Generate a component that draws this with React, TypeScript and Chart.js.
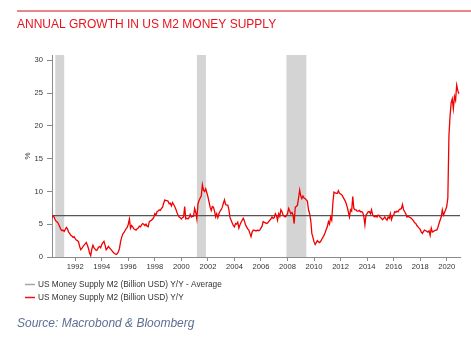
import { useEffect, useRef } from "react";
import { Chart, registerables } from "chart.js";

Chart.register(...registerables);

// Monthly Y/Y growth of US M2 (%), first value = April 1990
const startYear = 1990;
const startMonth = 4;

const growth1990s = [
  5.9, 6.3, 6.1, 5.6, 5.4, 5.3, 5.0, 4.6, 4.2,
  4.0, 4.1, 3.9, 4.2, 4.5, 4.3, 3.8, 3.6, 3.3, 3.2, 3.0, 3.1,
  2.8, 2.6, 2.5, 2.3, 1.6, 1.1, 1.3, 1.6, 1.8, 2.0, 2.2, 1.8,
  1.3, 0.6, 0.2, 1.2, 1.8, 1.4, 1.2, 1.0, 1.1, 1.5, 1.6, 1.4,
  1.9, 2.2, 2.4, 1.8, 1.1, 1.3, 1.6, 1.4, 1.2, 1.0, 0.8, 0.6,
  0.5, 0.4, 0.5, 0.8, 1.3, 2.3, 3.0, 3.5, 3.7, 4.0, 4.3, 4.5,
  5.0, 5.8, 4.4, 4.8, 4.6, 4.3, 4.2, 4.1, 4.3, 4.4, 4.7, 4.6,
  4.9, 5.1, 5.0, 4.8, 5.0, 4.7, 4.6, 5.4, 5.5, 5.6, 5.8, 6.0,
  6.6, 6.4, 6.9, 7.0, 7.2, 7.1, 7.4, 7.6, 8.2, 8.7, 8.6, 8.6,
  8.5, 8.1, 8.2, 7.8, 8.3, 8.0, 7.7, 7.3, 6.8, 6.4, 6.1, 6.0,
];

const growth2000s = [
  5.8, 6.0, 6.1, 7.7, 5.8, 5.9, 5.8, 6.0, 6.5, 6.1, 6.2, 6.2,
  7.4, 6.8, 5.8, 8.1, 8.6, 9.0, 9.3, 11.0, 10.2, 10.0, 10.4, 9.8,
  9.2, 8.4, 7.6, 7.1, 7.7, 7.6, 7.0, 6.1, 6.6, 6.0, 6.6, 7.0,
  7.2, 7.6, 8.2, 8.7, 8.0, 7.9, 7.9, 7.2, 6.0, 5.6, 5.2, 4.8,
  4.6, 5.1, 5.0, 5.3, 4.4, 4.9, 5.3, 5.6, 5.9, 5.5, 4.9, 4.6,
  4.3, 4.1, 3.6, 3.1, 3.8, 4.1, 4.1, 4.0, 4.0, 4.1, 4.0, 4.1,
  4.4, 4.7, 5.4, 5.3, 5.2, 5.1, 5.2, 5.4, 5.6, 5.8, 6.1, 5.9,
  6.0, 6.6, 6.3, 5.6, 6.6, 6.2, 7.2, 6.9, 6.4, 6.2, 6.1, 6.3,
  6.6, 7.4, 7.0, 6.6, 6.8, 6.4, 5.1, 7.6, 7.7, 7.9, 9.0, 10.2,
  9.3, 8.9, 9.3, 9.0, 8.9, 8.7, 8.5, 7.2, 6.6, 5.6, 3.6, 3.0,
];

const growth2010s = [
  2.3, 1.9, 2.2, 2.5, 2.3, 2.2, 2.4, 2.7, 3.0, 3.3, 3.7, 4.2,
  4.6, 5.4, 5.0, 6.1, 5.6, 8.2, 9.9, 9.8, 9.7, 9.7, 10.1, 9.7,
  9.6, 9.5, 9.2, 8.9, 8.6, 8.2, 7.6, 6.9, 6.1, 7.2, 7.0, 9.2,
  7.4, 7.2, 7.2, 7.0, 7.0, 7.1, 6.9, 6.9, 6.8, 6.2, 4.9, 6.4,
  6.6, 6.9, 6.9, 6.6, 7.2, 6.4, 6.2, 6.1, 6.3, 6.1, 6.4, 6.3,
  6.0, 5.9, 5.7, 5.9, 6.1, 5.8, 5.6, 6.1, 5.9, 6.6, 5.7, 6.2,
  6.4, 6.9, 6.8, 7.0, 6.9, 7.2, 7.3, 7.4, 8.0, 7.2, 6.9, 6.6,
  6.1, 6.2, 6.1, 6.0, 5.9, 5.7, 5.5, 5.2, 5.1, 4.8, 4.6, 4.4,
  4.2, 3.8, 3.6, 3.9, 4.1, 4.0, 3.9, 3.8, 4.0, 3.3, 4.4, 3.8,
  3.9, 4.0, 4.1, 4.1, 4.5, 5.1, 5.6, 6.1, 7.2, 6.4, 6.8, 7.2,
];

const growth2020 = [7.7, 9.0, 18.5, 21.5, 23.5, 24.1, 22.6, 24.5, 23.9, 26.2, 25.4, 24.9];

const averageGrowth = 6.3;
const axisEndYear = 2021;

const recessionStarts = [1990.5, 2001.17, 2007.92];
const recessionEnds = [1991.17, 2001.85, 2009.42];

const xTickYears = [1992, 1994, 1996, 1998, 2000, 2002, 2004, 2006, 2008, 2010, 2012, 2014, 2016, 2018, 2020];
const yTickValues = [0, 5, 10, 15, 20, 25, 30];

const titleText = "ANNUAL GROWTH IN US M2 MONEY SUPPLY";
const legendAverage = "US Money Supply M2 (Billion USD) Y/Y - Average";
const legendSeries = "US Money Supply M2 (Billion USD) Y/Y";
const sourceText = "Source: Macrobond & Bloomberg";

const FONT = '"Liberation Sans", Arial, sans-serif';

export default function App() {
  const canvasRef = useRef<HTMLCanvasElement | null>(null);

  useEffect(() => {
    const canvas = canvasRef.current;
    if (!canvas) return;

    const allGrowth = [...growth1990s, ...growth2000s, ...growth2010s, ...growth2020];
    const firstX = startYear + (startMonth - 1) / 12;
    const seriesPoints = allGrowth.map((v, i) => ({ x: firstX + i / 12, y: v }));
    const avgPoints = [
      { x: firstX, y: averageGrowth },
      { x: axisEndYear, y: averageGrowth },
    ];

    const bandsPlugin = {
      id: "recessionBands",
      beforeDatasetsDraw(chart: any) {
        const { ctx, chartArea, scales } = chart;
        ctx.save();
        ctx.fillStyle = "#d4d4d4";
        recessionStarts.forEach((s, i) => {
          const x1 = scales.x.getPixelForValue(s);
          const x2 = scales.x.getPixelForValue(recessionEnds[i]);
          ctx.fillRect(x1, chartArea.top, x2 - x1, chartArea.bottom - chartArea.top);
        });
        ctx.restore();
      },
    };

    const textPlugin = {
      id: "texts",
      afterDraw(chart: any) {
        const { ctx } = chart;
        ctx.save();
        // top rule
        ctx.fillStyle = "#d0101a";
        ctx.fillRect(17, 10.5, 454, 1);
        // title
        ctx.fillStyle = "#e8141c";
        ctx.font = `12px ${FONT}`;
        ctx.textBaseline = "middle";
        ctx.textAlign = "left";
        ctx.fillText(titleText, 17, 25);
        // legend
        ctx.lineWidth = 1.5;
        ctx.strokeStyle = "#a6a6a6";
        ctx.beginPath();
        ctx.moveTo(25, 284.5);
        ctx.lineTo(35, 284.5);
        ctx.stroke();
        ctx.strokeStyle = "#e8141c";
        ctx.beginPath();
        ctx.moveTo(25, 297.5);
        ctx.lineTo(35, 297.5);
        ctx.stroke();
        ctx.fillStyle = "#333333";
        ctx.font = `8.3px ${FONT}`;
        ctx.fillText(legendAverage, 38, 285);
        ctx.fillText(legendSeries, 38, 297.5);
        // source
        ctx.fillStyle = "#5d6f92";
        ctx.font = `italic 12px ${FONT}`;
        ctx.fillText(sourceText, 17, 323.5);
        ctx.restore();
      },
    };

    const tickFont = { family: FONT, size: 7.6 };

    const chart = new Chart(canvas, {
      type: "line",
      data: {
        datasets: [
          {
            label: legendSeries,
            data: seriesPoints,
            borderColor: "#f00000",
            borderWidth: 1.3,
            pointRadius: 0,
            tension: 0,
            order: 0,
          },
          {
            label: legendAverage,
            data: avgPoints,
            borderColor: "#555555",
            borderWidth: 1.2,
            pointRadius: 0,
            order: 1,
          },
        ],
      },
      options: {
        animation: false,
        responsive: false,
        events: [],
        layout: { padding: { left: 17, right: 11, top: 55, bottom: 0 } },
        plugins: {
          legend: { display: false },
          tooltip: { enabled: false },
          title: { display: false },
        },
        scales: {
          x: {
            type: "linear",
            min: firstX,
            max: axisEndYear,
            afterBuildTicks: (s: any) => {
              s.ticks = xTickYears.map((v) => ({ value: v }));
            },
            afterFit: (s: any) => {
              s.height = 82;
            },
            ticks: {
              callback: (v: any) => String(v),
              font: tickFont,
              color: "#333333",
              padding: 1,
              maxRotation: 0,
              autoSkip: false,
            },
            grid: { drawOnChartArea: false, drawTicks: true, tickLength: 4, color: "#8a8a8a" },
            border: { color: "#8a8a8a" },
          },
          y: {
            min: 0,
            max: 30.8,
            afterBuildTicks: (s: any) => {
              s.ticks = yTickValues.map((v) => ({ value: v }));
            },
            afterFit: (s: any) => {
              s.width = 35;
            },
            ticks: { font: tickFont, color: "#333333", padding: 4 },
            grid: { drawOnChartArea: false, drawTicks: true, tickLength: 5, color: "#8a8a8a" },
            border: { color: "#8a8a8a" },
            title: {
              display: true,
              text: "%",
              font: { family: FONT, size: 8 },
              color: "#333333",
              padding: { top: 6, bottom: 0 },
            },
          },
        },
      },
      plugins: [bandsPlugin, textPlugin],
    });

    return () => chart.destroy();
  }, []);

  return (
    <div style={{ position: "fixed", left: 0, top: 0, width: 471, height: 339, background: "#ffffff" }}>
      <canvas ref={canvasRef} width={471} height={339} style={{ width: 471, height: 339, display: "block" }} />
    </div>
  );
}
